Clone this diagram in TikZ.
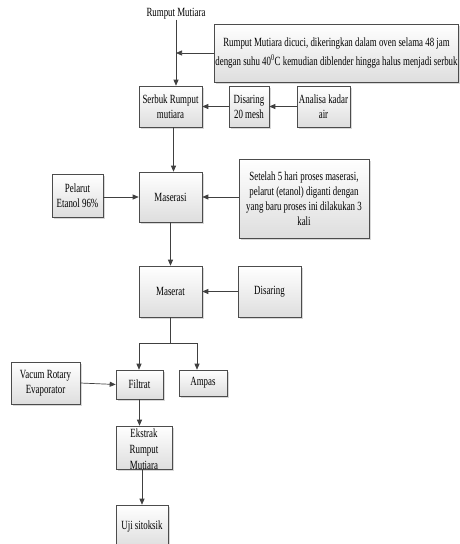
\documentclass[tikz,border=0pt]{standalone}
\usepackage{fontspec}
\setmainfont{Liberation Serif}[FakeStretch=0.71]
\usetikzlibrary{arrows.meta,shadows,calc}
\begin{document}
\begin{tikzpicture}[x=1pt,y=-1pt,
  box/.style={draw=black!70, line width=0.6pt, top color=white, bottom color=black!13,
    drop shadow={shadow xshift=1.5pt, shadow yshift=-1.5pt, fill=black!30},
    align=center, inner sep=1pt, font=\fontsize{12.5}{15}\selectfont},
  arr/.style={draw=black!75, line width=0.7pt, -{Triangle[length=6pt,width=5pt]}},
  ln/.style={draw=black!75, line width=0.7pt},
  lbl/.style={align=center, inner sep=0pt, font=\fontsize{12.5}{16}\selectfont}]
\useasboundingbox[fill=white] (0,0) rectangle (459,544);
\node[lbl] (title) at (176,14) {Rumput Mutiara};
\node[box, minimum width=243pt, minimum height=58pt, font=\fontsize{12.5}{18.5}\selectfont] (cuci) at (336.5,53)
  {Rumput Mutiara dicuci, dikeringkan dalam oven selama 48 jam\\dengan suhu 40\textsuperscript{0}C kemudian diblender hingga halus menjadi serbuk};
\node[box, minimum width=63pt, minimum height=41pt] (serbuk) at (170.5,106.5) {Serbuk Rumput\\mutiara};
\node[box, minimum width=40pt, minimum height=41pt] (dis20) at (249,106.5) {Disaring\\20 mesh};
\node[box, minimum width=53pt, minimum height=41pt] (analisa) at (323.5,106.5) {Analisa kadar\\air};
\node[box, minimum width=51pt, minimum height=43pt] (pelarut) at (77.5,195.5) {Pelarut\\Etanol 96\%};
\node[box, minimum width=63pt, minimum height=50pt] (maserasi) at (170.5,197) {Maserasi};
\node[box, minimum width=130pt, minimum height=79pt] (setelah) at (304,198.5)
  {Setelah 5 hari proses maserasi,\\pelarut (etanol) diganti dengan\\yang baru proses ini dilakukan 3\\kali};
\node[box, minimum width=63pt, minimum height=51pt] (maserat) at (170.5,291.5) {Maserat};
\node[box, minimum width=63pt, minimum height=51pt] (disaring) at (269.5,291.5) {Disaring};
\node[box, minimum width=69pt, minimum height=42pt] (vacum) at (45.5,383) {Vacum Rotary\\Evaporator};
\node[box, minimum width=47pt, minimum height=29pt] (filtrat) at (139.5,384.5) {Filtrat};
\node[box, minimum width=48pt, minimum height=26pt] (ampas) at (203,383) {Ampas};
\node[box, minimum width=56pt, minimum height=43pt] (ekstrak) at (144,447.5) {};
\node[lbl] (ekstrakt) at (144,449) {Ekstrak\\Rumput\\Mutiara};
\node[box, minimum width=52pt, minimum height=42pt] (uji) at (142,526) {Uji sitoksik};
% connectors
\draw[arr] (title.south) -- (title |- serbuk.north);
\draw[arr] (cuci.west) -- (title |- cuci.west);
\draw[arr] (dis20.west) -- (serbuk.east);
\draw[arr] (analisa.west) -- (dis20.east);
\draw[arr] ([xshift=3pt]serbuk.south) -- ([xshift=3pt]maserasi.north);
\draw[arr] (pelarut.east |- maserasi.west) -- (maserasi.west);
\draw[arr] (setelah.west |- maserasi.east) -- (maserasi.east);
\draw[arr] (maserasi.south) -- (maserat.north);
\draw[arr] (disaring.west) -- (maserat.east);
\coordinate (sp) at (172,343);
\coordinate (spL) at (139,343);
\coordinate (spR) at (197,343);
\draw[ln] (maserat.south) -- (maserat.south |- sp);
\draw[ln] (spL) -- (spR);
\draw[arr] (spL) -- (spL |- filtrat.north);
\draw[arr] (spR) -- (spR |- ampas.north);
\draw[arr] (vacum.east) -- (filtrat.west);
\draw[arr] (filtrat.south) -- (filtrat.south |- ekstrak.north);
\draw[arr] (uji.north |- ekstrak.south) -- (uji.north);
\end{tikzpicture}
\end{document}
